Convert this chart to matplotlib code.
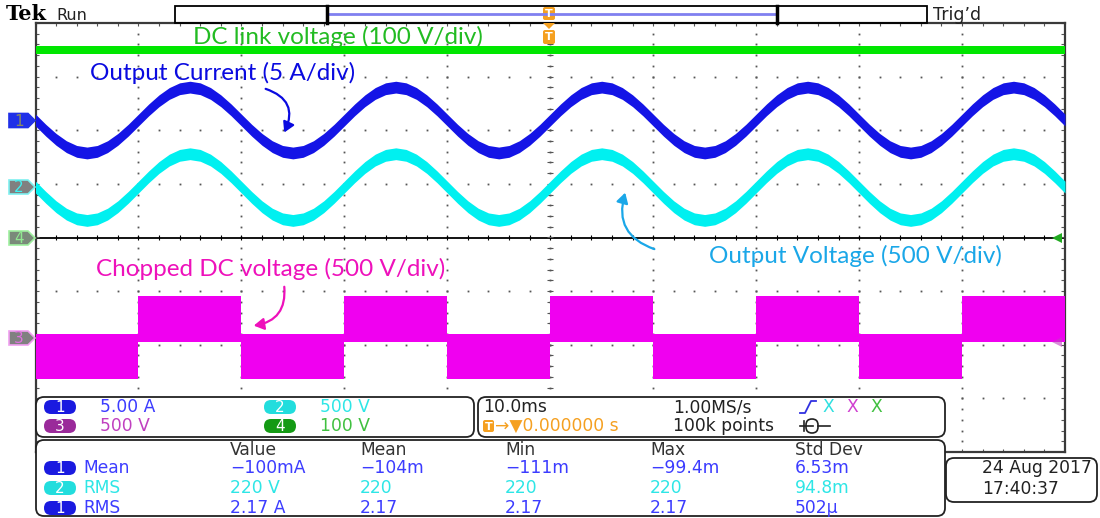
import numpy as np
import matplotlib.pyplot as plt
from matplotlib.patches import FancyBboxPatch, Polygon, FancyArrowPatch, Rectangle

# sampled every 1 ms over 100 ms (10 ms/div)
t_ms = np.arange(0, 101)
# ch1 output current (A)
current_a = [
    0.00, -0.95, -1.80, -2.48, -2.92, -3.07, -2.92, -2.48, -1.80, -0.95,
    0.00, 0.95, 1.80, 2.48, 2.92, 3.07, 2.92, 2.48, 1.80, 0.95,
    0.00, -0.95, -1.80, -2.48, -2.92, -3.07, -2.92, -2.48, -1.80, -0.95,
    0.00, 0.95, 1.80, 2.48, 2.92, 3.07, 2.92, 2.48, 1.80, 0.95,
    0.00, -0.95, -1.80, -2.48, -2.92, -3.07, -2.92, -2.48, -1.80, -0.95,
    0.00, 0.95, 1.80, 2.48, 2.92, 3.07, 2.92, 2.48, 1.80, 0.95,
    0.00, -0.95, -1.80, -2.48, -2.92, -3.07, -2.92, -2.48, -1.80, -0.95,
    0.00, 0.95, 1.80, 2.48, 2.92, 3.07, 2.92, 2.48, 1.80, 0.95,
    0.00, -0.95, -1.80, -2.48, -2.92, -3.07, -2.92, -2.48, -1.80, -0.95,
    0.00, 0.95, 1.80, 2.48, 2.92, 3.07, 2.92, 2.48, 1.80, 0.95,
    0.00]
# ch2 output voltage (V)
voltage_v = [
    0, -96, -183, -252, -296, -311, -296, -252, -183, -96,
    0, 96, 183, 252, 296, 311, 296, 252, 183, 96,
    0, -96, -183, -252, -296, -311, -296, -252, -183, -96,
    0, 96, 183, 252, 296, 311, 296, 252, 183, 96,
    0, -96, -183, -252, -296, -311, -296, -252, -183, -96,
    0, 96, 183, 252, 296, 311, 296, 252, 183, 96,
    0, -96, -183, -252, -296, -311, -296, -252, -183, -96,
    0, 96, 183, 252, 296, 311, 296, 252, 183, 96,
    0, -96, -183, -252, -296, -311, -296, -252, -183, -96,
    0, 96, 183, 252, 296, 311, 296, 252, 183, 96,
    0]
# ch3 chopped DC level (V) in each 10 ms half cycle
chop_ms = [0, 10, 20, 30, 40, 50, 60, 70, 80, 90]
chop_v = [-350, 350, -350, 350, -350, 350, -350, 350, -350, 350]
# ch4 DC link (V)
dc_link_v = 350

ch_scale = {1: 5.0, 2: 500.0, 3: 500.0, 4: 100.0}
ch_pos = {1: 2.19, 2: 0.94, 3: -1.87, 4: 0.0}

meas_cols = ['Value', 'Mean', 'Min', 'Max', 'Std Dev']
meas_rows = [
    (1, 'Mean', ['\u2212100mA', '\u2212104m', '\u2212111m', '\u221299.4m', '6.53m']),
    (2, 'RMS', ['220 V', '220', '220', '220', '94.8m']),
    (1, 'RMS', ['2.17 A', '2.17', '2.17', '2.17', '502\u00b5']),
]

BLUE = '#1414e6'
CYAN = '#00f0f0'
GREEN = '#00e600'
MAG = '#f000f0'
TBLUE = '#3c3cff'
TCYAN = '#2ee6e6'

fig = plt.figure(figsize=(11, 5.18), dpi=100)
ax = fig.add_axes([35.5/1100, 66/518, 1029.5/1100, 429/518], zorder=1)
ax.set_xlim(0, 10)
ax.set_ylim(-4, 4)
ax.set_xticks([])
ax.set_yticks([])
for s in ax.spines.values():
    s.set_color('#3a3a3a')
    s.set_linewidth(1.6)

# graticule
gx = np.arange(0, 10.001, 0.2)
gy = np.arange(-4, 4.001, 0.2)
for yy in [-3, -2, -1, 1, 2, 3]:
    ax.plot(gx[1:-1], np.full(len(gx)-2, yy), ls='none', marker='s', ms=1.3,
            mew=0, color='#555555')
for xx in range(1, 10):
    ax.plot(np.full(len(gy)-2, xx), gy[1:-1], ls='none', marker='s', ms=1.3,
            mew=0, color='#555555')
ax.axhline(0, color='black', lw=1.3)
ax.vlines(gx, -0.05, 0.05, color='black', lw=0.8)
ax.hlines(gy, 4.97, 5.03, color='#555555', lw=0.8)
ax.hlines(gy, 0, 0.035, color='#555555', lw=0.8)
ax.hlines(gy, 9.965, 10, color='#555555', lw=0.8)
ax.vlines(gx, 3.94, 4, color='#555555', lw=0.8)
ax.vlines(gx, -4, -3.94, color='#555555', lw=0.8)

# traces
x = t_ms / 10.0
y1 = ch_pos[1] + np.array(current_a) / ch_scale[1]
y2 = ch_pos[2] + np.array(voltage_v) / ch_scale[2]
ax.fill_between(x, y1 - 0.11, y1 + 0.11, color=BLUE, lw=0, zorder=3)
ax.fill_between(x, y2 - 0.11, y2 + 0.11, color=CYAN, lw=0, zorder=3)
y4 = ch_pos[4] + dc_link_v / ch_scale[4]
ax.fill_between([0, 10], y4 - 0.07, y4 + 0.07, color=GREEN, lw=0, zorder=3)
for t0, lev in zip(chop_ms, chop_v):
    lo = ch_pos[3] + min(0, lev) / ch_scale[3] - 0.07
    hi = ch_pos[3] + max(0, lev) / ch_scale[3] + 0.07
    ax.fill_between([t0/10, (t0+10)/10], lo, hi, color=MAG, lw=0, zorder=3)

# overlay in pixel coordinates
ov = fig.add_axes([0, 0, 1, 1], zorder=5)
ov.set_xlim(0, 1100)
ov.set_ylim(518, 0)
ov.axis('off')

ov.text(6, 14, 'Tek', family='DejaVu Serif', weight='bold', fontsize=15, va='center')
ov.text(56, 15, 'Run', fontsize=11.5, va='center', color='#222222')
ov.add_patch(Rectangle((175, 6), 752, 17, fill=False, ec='black', lw=1.3))
ov.plot([329, 776], [14, 14], color='#8080f0', lw=2)
ov.plot([327, 327], [6, 23], color='black', lw=2.5)
ov.plot([777, 777], [6, 23], color='black', lw=2.5)
ov.text(933, 15, 'Trig\u2019d', fontsize=12.5, va='center', color='#222222')
ORANGE = '#f5a020'
ov.add_patch(FancyBboxPatch((543, 7), 12, 13, boxstyle='round,pad=0,rounding_size=2',
                            fc=ORANGE, ec='none'))
ov.add_patch(Polygon([(543, 23), (555, 23), (549, 29)], fc=ORANGE, ec='none'))
ov.add_patch(FancyBboxPatch((543, 30), 12, 14, boxstyle='round,pad=0,rounding_size=2',
                            fc=ORANGE, ec='none'))
ov.text(549, 14, 'T', color='white', fontsize=8, weight='bold', ha='center', va='center')
ov.text(549, 37, 'T', color='white', fontsize=8, weight='bold', ha='center', va='center')

# channel markers on the left
def badge(yc, num, fc, ec, tc):
    ov.add_patch(Polygon([(9, yc-7), (28, yc-7), (35, yc), (28, yc+7), (9, yc+7)],
                         closed=True, fc=fc, ec=ec, lw=1.2))
    ov.text(19, yc+0.5, num, color=tc, fontsize=11, ha='center', va='center')

badge(120.5, '1', '#2030e8', '#2030e8', '#8a8a60')
badge(187, '2', '#808080', '#7ff0f0', '#40f0f0')
badge(238, '4', '#7a8a7a', '#a0f0a0', '#90e890')
badge(338, '3', '#808080', '#f0a0f0', '#e070e0')
ov.add_patch(Polygon([(1052, 238), (1062, 233), (1062, 243)], fc='#22aa22', ec='none'))
ov.add_patch(Polygon([(1052, 342), (1062, 337), (1062, 347)], fc='#c040c0', ec='none', alpha=0.6))

# labels with arrows
lab = dict(family='Lato', fontsize=17.5, va='center')
ov.text(193, 37, 'DC link voltage (100 V/div)', color='#22bb22', **lab)
ov.text(90, 73, 'Output Current (5 A/div)', color='#0a0ae0', **lab)
ov.text(709, 256, 'Output Voltage (500 V/div)', color='#1aa7e8', **lab)
ov.text(96, 269, 'Chopped DC voltage (500 V/div)', color='#ee11bb', **lab)
arr = dict(arrowstyle='-|>,head_length=6,head_width=3.5', lw=1.6, mutation_scale=1)
ov.add_patch(FancyArrowPatch((263, 88), (283, 135), connectionstyle='arc3,rad=-0.6',
                             color='#0a0ae0', **arr))
ov.add_patch(FancyArrowPatch((657, 250), (626, 190), connectionstyle='arc3,rad=-0.5',
                             color='#1aa7e8', **arr))
ov.add_patch(FancyArrowPatch((284, 284), (251, 326), connectionstyle='arc3,rad=-0.5',
                             color='#ee11bb', **arr))

# bottom readout boxes
def rbox(x0, y0, w, h, r=8):
    ov.add_patch(FancyBboxPatch((x0, y0), w, h, boxstyle='round,pad=0,rounding_size=%d' % r,
                                fc='white', ec='#222222', lw=1.3))

def pill(xc, yc, num, fc, w=32):
    ov.add_patch(FancyBboxPatch((xc - w/2, yc - 7), w, 14,
                                boxstyle='round,pad=0,rounding_size=7', fc=fc, ec='none'))
    ov.text(xc, yc + 0.5, num, color='white', fontsize=11, ha='center', va='center')

ui = dict(fontsize=12.3, va='center')
rbox(36, 397, 438, 40)
pill(60, 407, '1', '#1a1ae0')
ov.text(100, 407, '5.00 A', color=TBLUE, **ui)
pill(280, 407, '2', '#22dddd')
ov.text(320, 407, '500 V', color=TCYAN, **ui)
pill(60, 426, '3', '#9a2a9a')
ov.text(100, 426, '500 V', color='#c040c0', **ui)
pill(280, 426, '4', '#149a14')
ov.text(320, 426, '100 V', color='#40c040', **ui)

rbox(478, 397, 467, 40)
ov.text(483, 407, '10.0ms', color='#222222', **ui)
ov.text(673, 407, '1.00MS/s', color='#222222', **ui)
ov.plot([800, 805, 811, 816], [413, 413, 401, 401], color='#3030e0', lw=1.3)
ov.text(822, 407, 'X', color='#30e0e0', **ui)
ov.text(846, 407, 'X', color='#d040d0', **ui)
ov.text(870, 407, 'X', color='#40c040', **ui)
ov.add_patch(FancyBboxPatch((483, 420), 11, 12, boxstyle='round,pad=0,rounding_size=2',
                            fc=ORANGE, ec='none'))
ov.text(488.5, 426.5, 'T', color='white', fontsize=8, weight='bold', ha='center', va='center')
ov.text(495, 426, '\u2192\u25bc0.000000 s', color=ORANGE, **ui)
ov.text(673, 426, '100k points', color='#222222', **ui)
ov.plot([800, 813], [426, 426], color='#222222', lw=1.2)
ov.plot([804, 804], [421, 431], color='#222222', lw=1.2)
ov.add_patch(FancyBboxPatch((806, 419), 12, 14, boxstyle='round,pad=0,rounding_size=6',
                            fc='white', ec='#222222', lw=1.2))
ov.plot([818, 830], [426, 426], color='#222222', lw=1.2)

rbox(36, 440, 909, 76)
col_x = [230, 360, 505, 650, 795]
for cx, name in zip(col_x, meas_cols):
    ov.text(cx, 450, name, color='#333333', **ui)
for (ch, what, vals), yy in zip(meas_rows, [468, 488, 508]):
    col = TBLUE if ch == 1 else TCYAN
    pill(60, yy, str(ch), '#1a1ae0' if ch == 1 else '#22dddd')
    ov.text(83, yy, what, color=col, **ui)
    for cx, v in zip(col_x, vals):
        ov.text(cx, yy, v, color=col, **ui)

rbox(946, 458, 151, 44)
ov.text(982, 468, '24 Aug 2017', color='#222222', **ui)
ov.text(982, 489, '17:40:37', color='#222222', **ui)

fig.savefig('out.png', dpi=100)
